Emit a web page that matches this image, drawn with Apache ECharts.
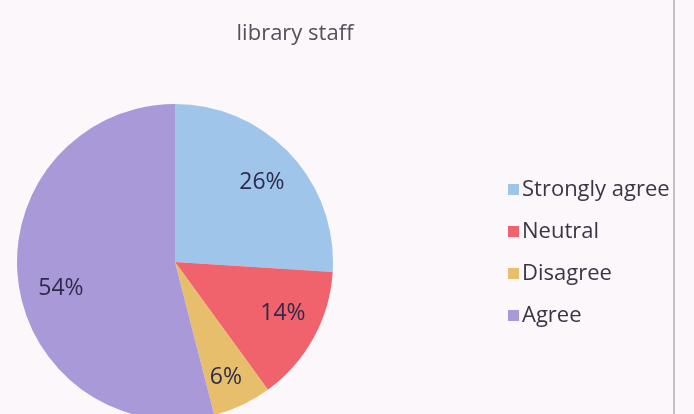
<!DOCTYPE html>
<html>
<head>
<meta charset="utf-8">
<script src="https://cdn.jsdelivr.net/npm/echarts@6/dist/echarts.min.js"></script>
<style>
  html, body { margin: 0; padding: 0; background: #fcf7fa; }
  #main { width: 694px; height: 414px; }
</style>
</head>
<body>
<div id="main"></div>
<script>
var categories = ['Strongly agree', 'Neutral', 'Disagree', 'Agree'];
var shares = [26, 14, 6, 54];
var sliceColors = ['#9fc6ea', '#f0626c', '#e7bf6c', '#a999d9'];

var chart = echarts.init(document.getElementById('main'));

var pieData = categories.map(function (name, i) {
    return { name: name, value: shares[i], itemStyle: { color: sliceColors[i] } };
});

// small nudges so the percent labels sit where the original put them
var labelNudge = [[-2, 4], [1, -7], [-1, 5], [7, 11]];

var option = {
    backgroundColor: '#fcf7fa',
    animation: false,
    title: {
        text: 'library staff',
        left: 290,
        top: 18,
        textAlign: 'center',
        textStyle: { fontFamily: 'Open Sans', fontSize: 22, fontWeight: 'normal', color: '#57505c' }
    },
    legend: {
        orient: 'vertical',
        left: 503,
        top: 173,
        icon: 'rect',
        itemWidth: 11,
        itemHeight: 11,
        itemGap: 19,
        data: categories,
        textStyle: { fontFamily: 'Open Sans', fontSize: 22, color: '#3c3446', lineHeight: 23, padding: [0, 0, 0, -2] }
    },
    series: [
        {
            type: 'pie',
            center: [175, 262],
            radius: [0, 158],
            startAngle: 90,
            label: { show: false },
            labelLine: { show: false },
            data: pieData
        },
        {
            // transparent ring used only to place the percent labels
            type: 'pie',
            center: [175, 262],
            radius: [80, 158],
            startAngle: 90,
            silent: true,
            itemStyle: { color: 'rgba(0,0,0,0)' },
            label: {
                show: true,
                position: 'inside',
                formatter: '{c}%',
                fontFamily: 'Open Sans',
                fontSize: 23,
                color: '#2f2a4c'
            },
            labelLine: { show: false },
            labelLayout: function (params) {
                var n = labelNudge[params.dataIndex];
                return { dx: n[0], dy: n[1] };
            },
            data: categories.map(function (name, i) {
                return { name: name, value: shares[i], itemStyle: { color: 'rgba(0,0,0,0)' } };
            })
        }
    ],
    graphic: [
        {
            type: 'rect',
            shape: { x: 674, y: 0, width: 20, height: 414 },
            style: { fill: '#fcf7fa' },
            z: 100
        },
        {
            type: 'line',
            shape: { x1: 674, y1: 0, x2: 674, y2: 414 },
            style: { stroke: '#8a8a8a', lineWidth: 1 },
            z: 101
        }
    ]
};

chart.setOption(option, true);
</script>
</body>
</html>
